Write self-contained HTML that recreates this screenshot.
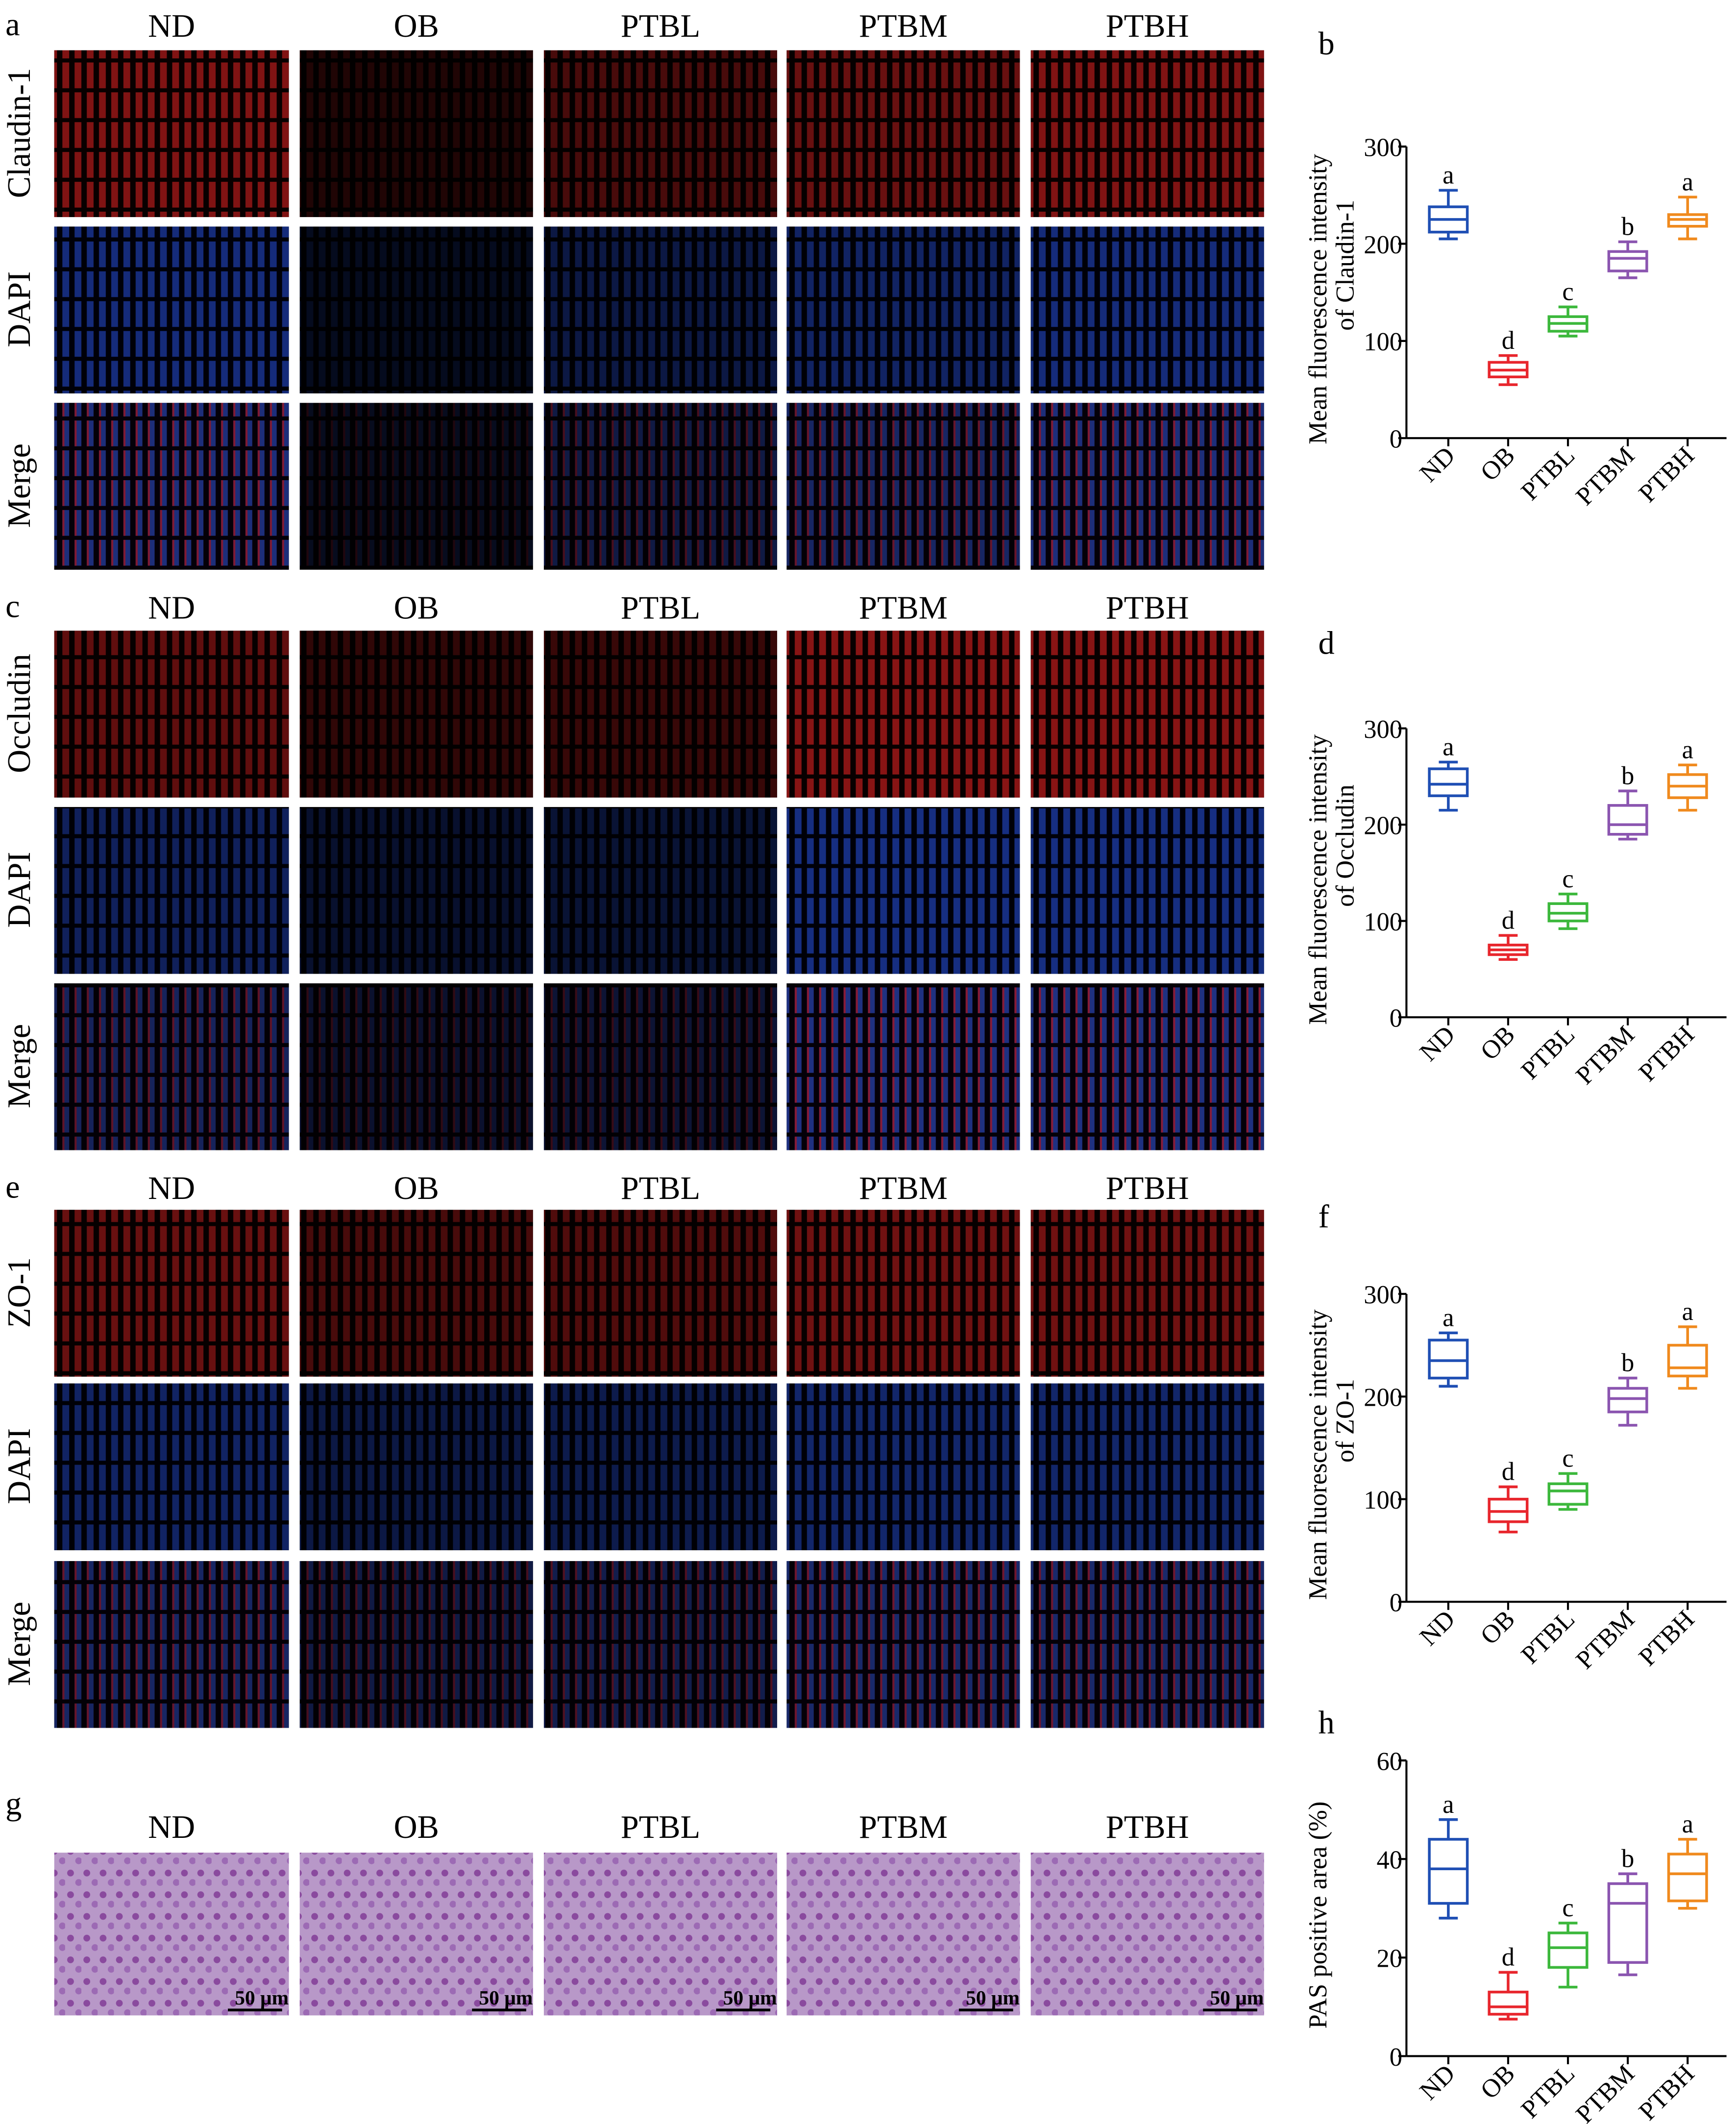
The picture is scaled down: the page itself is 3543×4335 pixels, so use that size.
<!DOCTYPE html>
<html><head><meta charset="utf-8">
<style>
html,body{margin:0;padding:0;background:#fff;}
svg{display:block;}
text{font-family:"Liberation Serif",serif;fill:#000;}
</style></head>
<body>
<svg id="fig" width="3543" height="4335" viewBox="0 0 1280 1566" xmlns="http://www.w3.org/2000/svg">
<defs>
<pattern id="stR" width="9" height="22" patternUnits="userSpaceOnUse"><rect width="9" height="22" fill="#0a0000"/><rect x="1" y="2" width="5" height="19" fill="#a01818"/></pattern>
<pattern id="stB" width="9" height="22" patternUnits="userSpaceOnUse"><rect width="9" height="22" fill="#00000a"/><rect x="1" y="2" width="5" height="19" fill="#1a3698"/></pattern>
<pattern id="stM" width="9" height="22" patternUnits="userSpaceOnUse"><rect width="9" height="22" fill="#05000a"/><rect x="1" y="2" width="5" height="19" fill="#243a98"/><rect x="1" y="2" width="1.5" height="19" fill="#a02040"/></pattern>
<pattern id="stP" width="12" height="16" patternUnits="userSpaceOnUse"><rect width="12" height="16" fill="#b898c8"/><circle cx="4" cy="5" r="2.5" fill="#8a4a9e"/><circle cx="10" cy="12" r="2.5" fill="#9c6ab4"/></pattern>
</defs>
<g id="panels"></g>
<g id="charts"></g>
</svg>
<script>
// ---- chart data ----
const groups = ["ND","OB","PTBL","PTBM","PTBH"];
const boxB = [[205,212,225,238,255],[55,63,70,78,85],[105,110,118,125,135],[165,172,185,192,202],[205,218,225,230,248]];
const boxD = [[215,230,242,258,265],[60,65,70,75,85],[92,100,108,118,128],[185,190,200,220,235],[215,228,240,252,262]];
const boxF = [[210,218,235,255,262],[68,78,88,100,112],[90,95,108,115,125],[172,185,198,208,218],[208,220,228,250,268]];
const boxH = [[28,31,38,44,48],[7.5,8.5,10,13,17],[14,18,22,25,27],[16.5,19,31,35,37],[30,31.5,37,41,44]];
const sigLetters = ["a","d","c","b","a"];
const ticks300 = [0,100,200,300];
const ticks60 = [0,20,40,60];
const colors = ["#1f4fb4","#e8262d","#3cb83c","#8b55b0","#f08a1e"];

const NS="http://www.w3.org/2000/svg";
function mk(tag,attrs,parent){const e=document.createElementNS(NS,tag);for(const k in attrs)e.setAttribute(k,attrs[k]);parent.appendChild(e);return e;}
function txt(s,attrs,parent){const e=mk("text",attrs,parent);e.textContent=s;return e;}

// ---- micrograph panels ----
const P=document.getElementById("panels");
const colX=[40,221,401,580,760], colW=[173,172,172,172,172];
const blocks=[
 {letter:"a",ly:19,ty:19,rows:[[37,"Claudin-1","stR"],[167,"DAPI","stB"],[297,"Merge","stM"]],dim:[0.8,0.2,0.45,0.65,0.8]},
 {letter:"c",ly:448,ty:448,rows:[[465,"Occludin","stR"],[595,"DAPI","stB"],[725,"Merge","stM"]],dim:[0.6,0.3,0.35,0.85,0.85]},
 {letter:"e",ly:876,ty:876,rows:[[892,"ZO-1","stR"],[1020,"DAPI","stB"],[1151,"Merge","stM"]],dim:[0.65,0.45,0.5,0.7,0.7]}
];
blocks.forEach(b=>{
 const l=txt(b.letter,{x:4,y:b.ly+7,"font-size":24},P);
 
 
 groups.forEach((g,i)=>{
  const t=txt(g,{x:colX[i]+colW[i]/2,y:b.ty+8,"font-size":24,"text-anchor":"middle"},P);
  
  
 });
 b.rows.forEach(r=>{
  const lab=txt(r[1],{x:0,y:0,"font-size":24,"text-anchor":"middle",transform:`translate(22,${r[0]+61}) rotate(-90)`},P);
  
  
  groups.forEach((g,i)=>{
   mk("rect",{x:colX[i],y:r[0],width:colW[i],height:123,fill:"#000"},P);
   const im=mk("rect",{x:colX[i],y:r[0],width:colW[i],height:123,fill:`url(#${r[2]})`,opacity:b.dim[i]},P);
   
   
  });
 });
});
// PAS row
const lg=txt("g",{x:4,y:1338,"font-size":24},P);


groups.forEach((g,i)=>{
 const t=txt(g,{x:colX[i]+colW[i]/2,y:1355,"font-size":24,"text-anchor":"middle"},P);
 
 
 const im=mk("rect",{x:colX[i],y:1366,width:colW[i],height:120,fill:"url(#stP)"},P);
 
 
 const sb=txt("50 μm",{x:colX[i]+colW[i]-20,y:1478,"font-size":15,"font-weight":"bold","text-anchor":"middle"},P);
 
 
 mk("line",{x1:colX[i]+colW[i]-45,x2:colX[i]+colW[i]-5,y1:1482,y2:1482,stroke:"#000","stroke-width":2},P);
});

// ---- box charts ----
const C=document.getElementById("charts");
function chart(letter,ly,yTop,yBot,maxV,ticks,data,t1,t2){
 const g=mk("g",{},C);
 
 
 const L=txt(letter,{x:972,y:ly+8,"font-size":24},g);
 
 
 const x0=1037,x1=1273;
 const y=v=>yBot-(v/maxV)*(yBot-yTop);
 mk("line",{x1:x0,x2:x0,y1:yTop,y2:yBot,stroke:"#000","stroke-width":1.5},g);
 mk("line",{x1:x0,x2:x1,y1:yBot,y2:yBot,stroke:"#000","stroke-width":1.5},g);
 ticks.forEach(t=>{
  mk("line",{x1:x0-6,x2:x0,y1:y(t),y2:y(t),stroke:"#000","stroke-width":1.5},g);
  const tl=txt(String(t),{x:x0-3,y:y(t)+7,"font-size":19,"text-anchor":"end"},g);
  
  
 });
 const yt=txt(t1,{x:0,y:0,"font-size":19,"text-anchor":"middle",transform:`translate(978,${(yTop+yBot)/2+5}) rotate(-90)`},g);
 
 
 if(t2){const yt2=txt(t2,{x:0,y:0,"font-size":19,"text-anchor":"middle",transform:`translate(998,${(yTop+yBot)/2-20}) rotate(-90)`},g);
 
 }
 const step=(x1-x0)/5.35;
 data.forEach((d,i)=>{
  const cx=x0+step*(i+0.7), w=28, c=colors[i];
  const bg=mk("g",{},g);
  
  
  mk("line",{x1:cx,x2:cx,y1:y(d[0]),y2:y(d[1]),stroke:c,"stroke-width":2},bg);
  mk("line",{x1:cx,x2:cx,y1:y(d[3]),y2:y(d[4]),stroke:c,"stroke-width":2},bg);
  mk("line",{x1:cx-7,x2:cx+7,y1:y(d[0]),y2:y(d[0]),stroke:c,"stroke-width":2},bg);
  mk("line",{x1:cx-7,x2:cx+7,y1:y(d[4]),y2:y(d[4]),stroke:c,"stroke-width":2},bg);
  mk("rect",{x:cx-w/2,y:y(d[3]),width:w,height:y(d[1])-y(d[3]),fill:"none",stroke:c,"stroke-width":2},bg);
  mk("line",{x1:cx-w/2,x2:cx+w/2,y1:y(d[2]),y2:y(d[2]),stroke:c,"stroke-width":2},bg);
  const s=txt(sigLetters[i],{x:cx,y:y(d[4])-5,"font-size":19,"text-anchor":"middle"},g);
  
  
  mk("line",{x1:cx,x2:cx,y1:yBot,y2:yBot+6,stroke:"#000","stroke-width":1.5},g);
  const xl=txt(groups[i],{x:0,y:0,"font-size":19,"text-anchor":"end",transform:`translate(${cx+6},${yBot+14}) rotate(-45)`},g);
  
  
 });
}
chart("b",32,108,323,300,ticks300,boxB,"Mean fluorescence intensity","of Claudin-1");
chart("d",474,537,750,300,ticks300,boxD,"Mean fluorescence intensity","of Occludin");
chart("f",897,954,1181,300,ticks300,boxF,"Mean fluorescence intensity","of ZO-1");
chart("h",1270,1298,1516,60,ticks60,boxH,"PAS positive area (%)",null);
</script>
</body></html>
